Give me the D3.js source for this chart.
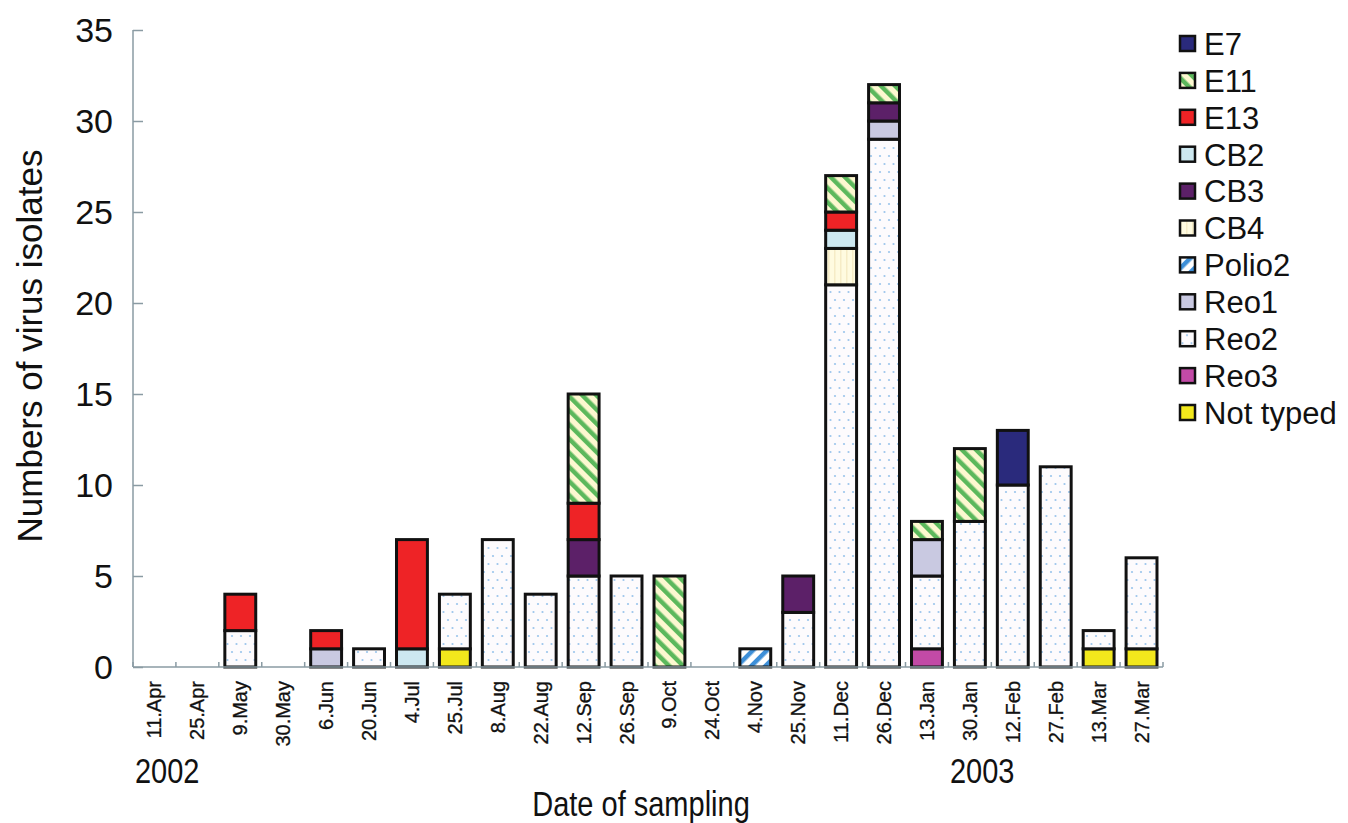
<!DOCTYPE html>
<html><head><meta charset="utf-8">
<script src="https://cdn.jsdelivr.net/npm/d3@7"></script>
<style>body{margin:0;background:#fff;} svg{font-family:"Liberation Sans", Arial, sans-serif;}</style>
</head><body>
<svg id="c" width="1348" height="823"></svg>
<script>
const dates = ["11.Apr","25.Apr","9.May","30.May","6.Jun","20.Jun","4.Jul","25.Jul","8.Aug","22.Aug","12.Sep","26.Sep","9.Oct","24.Oct","4.Nov","25.Nov","11.Dec","26.Dec","13.Jan","30.Jan","12.Feb","27.Feb","13.Mar","27.Mar"];
const legendOrder = ["E7","E11","E13","CB2","CB3","CB4","Polio2","Reo1","Reo2","Reo3","Not typed"];
const E7      = [0,0,0,0,0,0,0,0,0,0,0,0,0,0,0,0,0,0,0,0,3,0,0,0];
const E11     = [0,0,0,0,0,0,0,0,0,0,6,0,5,0,0,0,2,1,1,4,0,0,0,0];
const E13     = [0,0,2,0,1,0,6,0,0,0,2,0,0,0,0,0,1,0,0,0,0,0,0,0];
const CB2     = [0,0,0,0,0,0,1,0,0,0,0,0,0,0,0,0,1,0,0,0,0,0,0,0];
const CB3     = [0,0,0,0,0,0,0,0,0,0,2,0,0,0,0,2,0,1,0,0,0,0,0,0];
const CB4     = [0,0,0,0,0,0,0,0,0,0,0,0,0,0,0,0,2,0,0,0,0,0,0,0];
const Polio2  = [0,0,0,0,0,0,0,0,0,0,0,0,0,0,1,0,0,0,0,0,0,0,0,0];
const Reo1    = [0,0,0,0,1,0,0,0,0,0,0,0,0,0,0,0,0,1,2,0,0,0,0,0];
const Reo2    = [0,0,2,0,0,1,0,3,7,4,5,5,0,0,0,3,21,29,4,8,10,11,1,5];
const Reo3    = [0,0,0,0,0,0,0,0,0,0,0,0,0,0,0,0,0,0,1,0,0,0,0,0];
const NotTyped= [0,0,0,0,0,0,0,1,0,0,0,0,0,0,0,0,0,0,0,0,0,0,1,1];
const yTicks = [0,5,10,15,20,25,30,35];

const seriesData = {"E7":E7,"E11":E11,"E13":E13,"CB2":CB2,"CB3":CB3,"CB4":CB4,"Polio2":Polio2,"Reo1":Reo1,"Reo2":Reo2,"Reo3":Reo3,"Not typed":NotTyped};
const stackOrder = legendOrder.slice().reverse();
const rows = dates.map((d,i)=>{const r={date:d}; for(const k of legendOrder) r[k]=seriesData[k][i]; return r;});

const svg = d3.select("#c");
const defs = svg.append("defs");
function hatch(id, bg, fg, dir){
  const p = defs.append("pattern").attr("id",id).attr("patternUnits","userSpaceOnUse").attr("width",10).attr("height",10)
    .attr("patternTransform", `rotate(${dir})`);
  p.append("rect").attr("width",10).attr("height",10).attr("fill",bg);
  p.append("rect").attr("width",4.5).attr("height",10).attr("fill",fg);
}
hatch("pE11","#fdf8d0","#5cb85c",-45);
hatch("pPolio","#ffffff","#3d8fd8",45);
{
  const p = defs.append("pattern").attr("id","pReo2").attr("patternUnits","userSpaceOnUse").attr("width",9).attr("height",16);
  p.append("rect").attr("width",9).attr("height",16).attr("fill","#fdfbfd");
  p.append("circle").attr("cx",2.5).attr("cy",4).attr("r",1.1).attr("fill","#9cc6ec");
  p.append("circle").attr("cx",7).attr("cy",12).attr("r",1.1).attr("fill","#9cc6ec");
}
{
  const p = defs.append("pattern").attr("id","pCB4").attr("patternUnits","userSpaceOnUse").attr("width",6).attr("height",6);
  p.append("rect").attr("width",6).attr("height",6).attr("fill","#fffbe0");
  p.append("rect").attr("width",1.5).attr("height",6).attr("fill","#f6ecc6");
}
const fills = {"E7":"#2a2a7c","E11":"url(#pE11)","E13":"#ee2326","CB2":"#cde8f0","CB3":"#5c2068","CB4":"url(#pCB4)","Polio2":"url(#pPolio)","Reo1":"#c9c9e1","Reo2":"url(#pReo2)","Reo3":"#c24aa6","Not typed":"#f2e81c"};

const x0 = 133, x1 = 1163, yBottom = 667, yTop = 30;
const x = d3.scaleBand().domain(dates).range([x0,x1]).paddingInner(0.28).paddingOuter(0.14);
const y = d3.scaleLinear().domain([0,35]).range([yBottom,yTop]);

const stack = d3.stack().keys(stackOrder)(rows);
const g = svg.append("g");
stack.forEach(layer=>{
  g.selectAll(null).data(layer.filter(d=>d[1]-d[0]>0)).enter().append("rect")
    .attr("x",d=>x(d.data.date)).attr("width",x.bandwidth())
    .attr("y",d=>y(d[1])).attr("height",d=>y(d[0])-y(d[1]))
    .attr("fill",fills[layer.key]).attr("stroke","#111").attr("stroke-width",3);
});

// y axis
const axisColor = "#8a9ba3";
const ya = svg.append("g").attr("transform",`translate(${x0},0)`)
  .call(d3.axisLeft(y).tickValues(yTicks).tickSize(-10));
ya.select(".domain").attr("stroke",axisColor).attr("stroke-width",1.5).attr("d",`M0,${yTop}V${yBottom}`);
ya.selectAll(".tick line").attr("stroke",axisColor).attr("stroke-width",1.5).attr("x2",10);
ya.selectAll(".tick text").attr("font-size",34).attr("fill","#111").attr("x",-20).attr("dy","0.35em").attr("text-anchor","end");

// x axis
const xa = svg.append("g").attr("transform",`translate(0,${yBottom})`);
xa.append("line").attr("x1",x0).attr("x2",x1).attr("stroke",axisColor).attr("stroke-width",1.5);
const step = x.step();
const bnds = dates.map(d=>x(d)-step*x.paddingInner()/2).concat([x1]);
bnds[0]=x0;
xa.selectAll(".xt").data(bnds).enter().append("line").attr("class","xt")
  .attr("x1",d=>d).attr("x2",d=>d).attr("y1",0).attr("y2",-5).attr("stroke",axisColor).attr("stroke-width",1.5);
xa.selectAll(".xl").data(dates).enter().append("text").attr("class","xl")
  .attr("transform",d=>`translate(${x(d)+x.bandwidth()/2+7},14) rotate(-90)`)
  .attr("text-anchor","end").attr("font-size",20).attr("fill","#111").attr("stroke","#111").attr("stroke-width",0.3).text(d=>d);

// year labels (slightly stretched vertically as in the reference)
svg.append("text").attr("transform","translate(135,783) scale(1,1.2)").attr("font-size",29).attr("fill","#111").text("2002");
svg.append("text").attr("transform","translate(950,783) scale(1,1.2)").attr("font-size",29).attr("fill","#111").text("2003");
// axis titles
svg.append("text").attr("transform","translate(641,816) scale(1,1.2)").attr("text-anchor","middle").attr("font-size",29).attr("fill","#111").text("Date of sampling");
svg.append("text").attr("transform","translate(42,346) rotate(-90)").attr("text-anchor","middle").attr("font-size",35).attr("fill","#111").text("Numbers of virus isolates");

// legend
const lg = svg.append("g").attr("transform","translate(1180,44)");
const li = lg.selectAll("g").data(legendOrder).enter().append("g").attr("transform",(d,i)=>`translate(0,${i*36.9})`);
li.append("rect").attr("x",0).attr("y",-8).attr("width",15).attr("height",15).attr("fill",d=>fills[d]).attr("stroke","#111").attr("stroke-width",2.5);
li.append("text").attr("x",24).attr("y",0).attr("dy","0.35em").attr("font-size",31).attr("fill","#111").text(d=>d);
</script>
</body></html>
